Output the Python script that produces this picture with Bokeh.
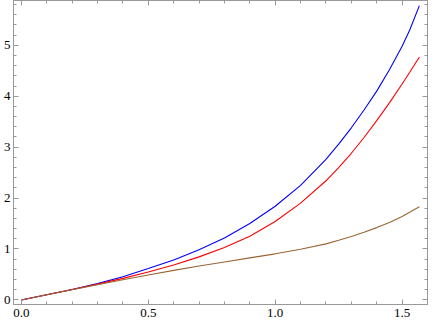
from bokeh.plotting import figure
from bokeh.models import LinearAxis, Range1d, FixedTicker, CustomJSTickFormatter
from bokeh.embed import file_html
from bokeh.resources import INLINE

# values
x_vals = [0.0, 0.1, 0.2, 0.3, 0.4, 0.5, 0.6, 0.7, 0.8, 0.9, 1.0, 1.1, 1.2, 1.25,
          1.3, 1.35, 1.4, 1.45, 1.5, 1.53, 1.568]
blue_y = [0.0, 0.10, 0.205, 0.32, 0.455, 0.615, 0.785, 0.985, 1.215, 1.50, 1.84, 2.25, 2.76, 3.06,
          3.38, 3.73, 4.10, 4.52, 4.98, 5.30, 5.78]
red_y = [0.0, 0.10, 0.203, 0.31, 0.423, 0.548, 0.685, 0.845, 1.03, 1.25, 1.54, 1.90, 2.34, 2.60,
         2.88, 3.19, 3.52, 3.87, 4.24, 4.47, 4.77]
brown_y = [0.0, 0.10, 0.20, 0.298, 0.395, 0.49, 0.58, 0.665, 0.745, 0.825, 0.905, 0.995, 1.10, 1.17,
           1.245, 1.33, 1.42, 1.52, 1.64, 1.72, 1.83]

x_major = [0.0, 0.5, 1.0, 1.5]
x_minor = [round(0.1 * i, 1) for i in range(0, 17)]
y_major = [0, 1, 2, 3, 4, 5]
y_minor = [round(0.2 * i, 1) for i in range(0, 30)]

frame_col = "#999999"
font = "Liberation Serif"

p = figure(width=428, height=319, output_backend="svg", toolbar_location=None,
           x_range=Range1d(-0.031, 1.6), y_range=Range1d(-0.09, 5.88),
           x_axis_location=None, y_axis_location=None,
           min_border_left=1, min_border_right=1, min_border_top=0, min_border_bottom=2)
p.grid.visible = False
p.outline_line_color = frame_col
p.background_fill_color = "white"
p.border_fill_color = "white"


def make_axis(ticks, minor, labels=True):
    ax = LinearAxis(ticker=FixedTicker(ticks=ticks, minor_ticks=minor))
    ax.axis_line_color = frame_col
    ax.major_tick_line_color = frame_col
    ax.minor_tick_line_color = frame_col
    ax.major_tick_in = 5
    ax.major_tick_out = 0
    ax.minor_tick_in = 3
    ax.minor_tick_out = 0
    ax.major_label_text_font = font
    ax.major_label_text_font_size = "13px"
    ax.major_label_text_color = "black"
    ax.major_label_standoff = 4
    if not labels:
        ax.formatter = CustomJSTickFormatter(code="return '';")
        ax.major_label_standoff = 0
    return ax


bx = make_axis(x_major, x_minor)
bx.formatter = CustomJSTickFormatter(code="return tick.toFixed(1);")
p.add_layout(bx, "below")
ly = make_axis(y_major, y_minor)
ly.major_label_standoff = 3
p.add_layout(ly, "left")
p.add_layout(make_axis(x_major, x_minor, False), "above")
p.add_layout(make_axis(y_major, y_minor, False), "right")

p.line(x_vals, blue_y, line_color="#0000FF", line_width=1.1)
p.line(x_vals, red_y, line_color="#FF0000", line_width=1.1)
p.line(x_vals, brown_y, line_color="#996633", line_width=1.1)

open("out.html", "w").write(file_html(p, INLINE))
